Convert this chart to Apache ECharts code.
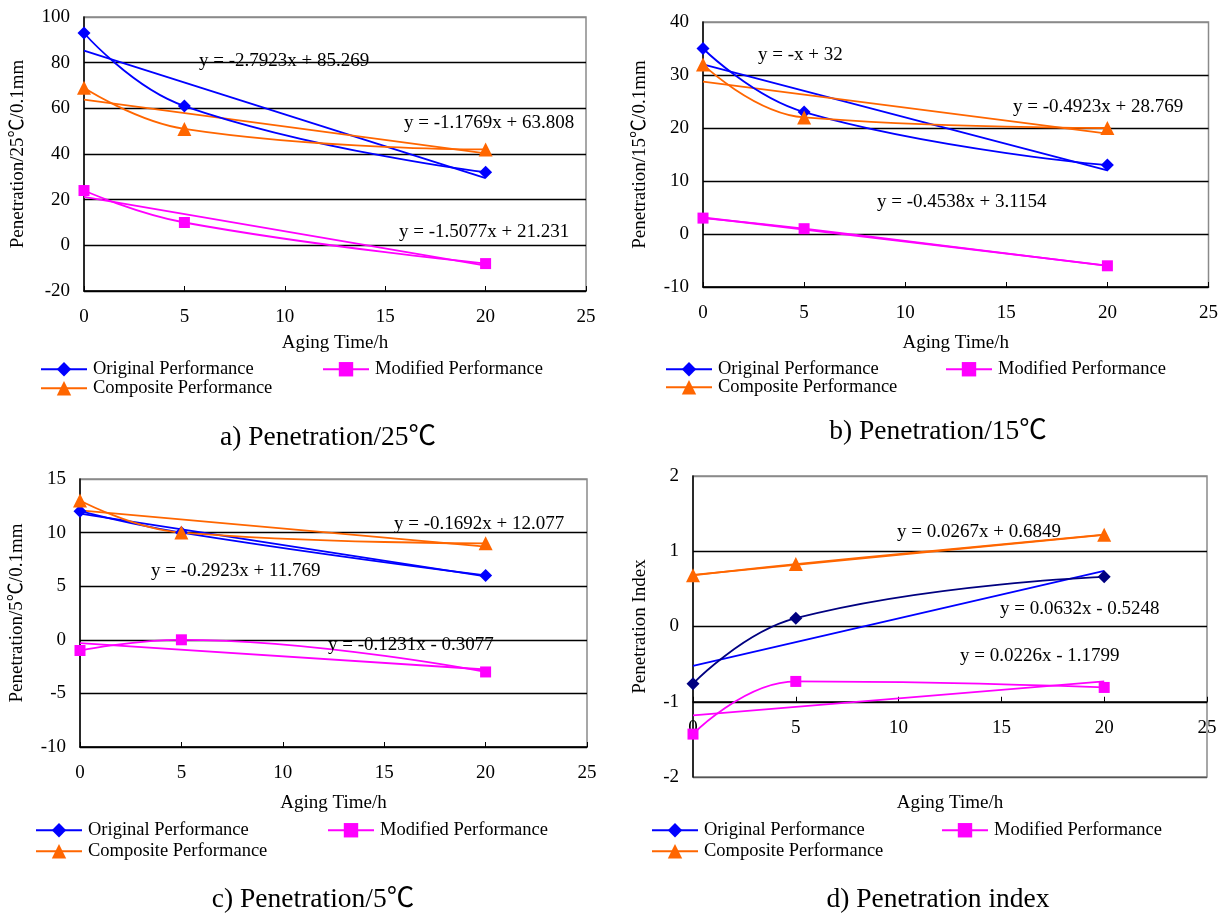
<!DOCTYPE html>
<html>
<head>
<meta charset="utf-8">
<script src="https://cdn.jsdelivr.net/npm/echarts@6/dist/echarts.min.js"></script>
<style>
  html, body { margin: 0; padding: 0; background: #fff; }
  #chart { width: 1221px; height: 916px; }
</style>
</head>
<body>
<div id="chart"></div>
<script>
// Aging time (h) at which each sample was measured
const hours = [0, 5, 20];
const seriesNames = ['Original Performance', 'Modified Performance', 'Composite Performance'];

// a) Penetration at 25 ℃ (0.1 mm)
const pen25Original = [93, 61, 32];
const pen25Modified = [24, 10, -8];
const pen25Composite = [69, 51, 42];
const pen25Slopes = [-2.7923, -1.5077, -1.1769];
const pen25Intercepts = [85.269, 21.231, 63.808];
const pen25Equations = ['y = -2.7923x + 85.269', 'y = -1.5077x + 21.231', 'y = -1.1769x + 63.808'];

// b) Penetration at 15 ℃ (0.1 mm)
const pen15Original = [35, 23, 13];
const pen15Modified = [3, 1, -6];
const pen15Composite = [32, 22, 20];
const pen15Slopes = [-1, -0.4538, -0.4923];
const pen15Intercepts = [32, 3.1154, 28.769];
const pen15Equations = ['y = -x + 32', 'y = -0.4538x + 3.1154', 'y = -0.4923x + 28.769'];

// c) Penetration at 5 ℃ (0.1 mm)
const pen5Original = [12, 10, 6];
const pen5Modified = [-1, 0, -3];
const pen5Composite = [13, 10, 9];
const pen5Slopes = [-0.2923, -0.1231, -0.1692];
const pen5Intercepts = [11.769, -0.3077, 12.077];
const pen5Equations = ['y = -0.2923x + 11.769', 'y = -0.1231x - 0.3077', 'y = -0.1692x + 12.077'];

// d) Penetration index
const piOriginal = [-0.76, 0.11, 0.66];
const piModified = [-1.43, -0.73, -0.81];
const piComposite = [0.68, 0.83, 1.22];
const piSlopes = [0.0632, 0.0226, 0.0267];
const piIntercepts = [-0.5248, -1.1799, 0.6849];
const piEquations = ['y = 0.0632x - 0.5248', 'y = 0.0226x - 1.1799', 'y = 0.0267x + 0.6849'];

// Axis ticks
const xTicks = { min: 0, max: 25, step: 5 };
const yTicks = [
  { min: -20, max: 100, step: 20 },
  { min: -10, max: 40, step: 10 },
  { min: -10, max: 15, step: 5 },
  { min: -2, max: 2, step: 1 }
];
const yTitles = ['Penetration/25℃/0.1mm', 'Penetration/15℃/0.1mm', 'Penetration/5℃/0.1mm', 'Penetration Index'];
const captions = ['a) Penetration/25℃', 'b) Penetration/15℃', 'c) Penetration/5℃', 'd) Penetration index'];
const xTitle = 'Aging Time/h';

const FONT = '"Liberation Serif", "Times New Roman", "Noto Sans CJK SC", serif';

const panelData = [
  { values: [pen25Original, pen25Modified, pen25Composite], slopes: pen25Slopes, intercepts: pen25Intercepts, equations: pen25Equations },
  { values: [pen15Original, pen15Modified, pen15Composite], slopes: pen15Slopes, intercepts: pen15Intercepts, equations: pen15Equations },
  { values: [pen5Original, pen5Modified, pen5Composite], slopes: pen5Slopes, intercepts: pen5Intercepts, equations: pen5Equations },
  { values: [piOriginal, piModified, piComposite], slopes: piSlopes, intercepts: piIntercepts, equations: piEquations }
];

// Layout of the four panels
const layout = [
  { grid: { left: 84, top: 17, width: 502, height: 274 }, yNameGap: 56, xNameGap: 43, xCross: 'min',
    eq: [[199, 61], [399, 232], [404, 123]], legend: [[40, 360], [322, 360], [40, 379]], caption: [328, 438] },
  { grid: { left: 703, top: 22, width: 506, height: 265 }, yNameGap: 53, xNameGap: 47, xCross: 'min',
    eq: [[758, 55], [877, 202], [1013, 107]], legend: [[665, 360], [945, 360], [665, 378]], caption: [938, 432] },
  { grid: { left: 80, top: 479, width: 507, height: 268 }, yNameGap: 53, xNameGap: 47, xCross: 'min',
    eq: [[151, 571], [328, 645], [394, 524]], legend: [[35, 821], [327, 821], [35, 842]], caption: [313, 900] },
  { grid: { left: 693, top: 476, width: 514, height: 301 }, yNameGap: 43, xNameGap: 92, xCross: -1,
    eq: [[1000, 609], [960, 656], [897, 532]], legend: [[651, 821], [941, 821], [651, 842]], caption: [938, 900] }
];

const lineColors = [
  ['#0000ff', '#ff00ff', '#ff6600'],
  ['#0000ff', '#ff00ff', '#ff6600'],
  ['#0000ff', '#ff00ff', '#ff6600'],
  ['#000080', '#ff00ff', '#ff6600']
];
const trendColors = ['#0000ff', '#ff00ff', '#ff6600'];
const symbols = ['diamond', 'rect', 'triangle'];
const symbolSizes = [13, 11, 14];

const grids = [], xAxes = [], yAxes = [], series = [], legends = [], graphics = [];

layout.forEach((lay, p) => {
  const yt = yTicks[p];
  const tickCount = Math.round((yt.max - yt.min) / yt.step) + 1;
  // interior grid lines black, top edge grey; bottom edge grey when the x axis crosses above it
  const splitColors = [];
  for (let i = 0; i < tickCount; i++) {
    if (i === tickCount - 1) splitColors.push('#8a8a8a');
    else if (i === 0 && lay.xCross !== 'min') splitColors.push('#555');
    else splitColors.push('#000');
  }
  grids.push(Object.assign({ show: true, borderColor: '#8a8a8a', borderWidth: 1.5, backgroundColor: 'transparent' }, lay.grid));

  // the x axis may cross the value axis above its minimum
  const crossOffset = lay.xCross === 'min' ? 0 : -lay.grid.height * (lay.xCross - yt.min) / (yt.max - yt.min);
  xAxes.push({
    type: 'value', gridIndex: p, min: xTicks.min, max: xTicks.max, interval: xTicks.step,
    position: 'bottom', offset: crossOffset,
    name: xTitle, nameLocation: 'middle', nameGap: lay.xNameGap,
    nameTextStyle: { fontFamily: FONT, fontSize: 19, color: '#000' },
    axisLine: { onZero: false, lineStyle: { color: '#000', width: 1.5 } },
    axisTick: { show: true, inside: true, length: 5, lineStyle: { color: '#000' } },
    axisLabel: { fontFamily: FONT, fontSize: 19, color: '#000', margin: 17 },
    splitLine: { show: false }
  });
  yAxes.push({
    type: 'value', gridIndex: p, min: yt.min, max: yt.max, interval: yt.step,
    name: yTitles[p], nameLocation: 'middle', nameGap: lay.yNameGap, nameRotate: 90,
    nameTextStyle: { fontFamily: FONT, fontSize: 19, color: '#000' },
    axisLine: { show: true, onZero: false, lineStyle: { color: '#000', width: 1.5 } },
    axisTick: { show: false },
    axisLabel: { fontFamily: FONT, fontSize: 19, color: '#000', margin: 14 },
    splitLine: { show: true, lineStyle: { color: splitColors, width: 1.4 } }
  });

  const d = panelData[p];
  // measured values, smoothed
  d.values.forEach((vals, s) => {
    series.push({
      type: 'line', name: seriesNames[s], xAxisIndex: p, yAxisIndex: p,
      data: hours.map((h, i) => [h, vals[i]]),
      smooth: 0.45,
      symbol: symbols[s], symbolSize: symbolSizes[s], showSymbol: true,
      lineStyle: { color: lineColors[p][s], width: 1.8 },
      itemStyle: { color: lineColors[p][s] },
      z: 3
    });
  });
  // linear trend lines from the fitted equations
  d.slopes.forEach((m, s) => {
    const x0 = hours[0], x1 = hours[hours.length - 1];
    series.push({
      type: 'line', name: seriesNames[s] + ' trend', xAxisIndex: p, yAxisIndex: p,
      data: [[x0, m * x0 + d.intercepts[s]], [x1, m * x1 + d.intercepts[s]]],
      symbol: 'none', silent: true,
      lineStyle: { color: trendColors[s], width: 1.8 },
      z: 2
    });
  });
  // legends: two items on the first row, one on the second
  seriesNames.forEach((nm, s) => {
    legends.push({
      data: [nm], left: lay.legend[s][0], top: lay.legend[s][1], padding: 0,
      itemWidth: 46, itemHeight: 18, itemGap: 0, selectedMode: false,
      textStyle: { fontFamily: FONT, fontSize: 18.5, color: '#000', padding: [0, 0, 0, 1] }
    });
  });
  // equation labels
  d.equations.forEach((txt, s) => {
    graphics.push({
      type: 'text', x: lay.eq[s][0], y: lay.eq[s][1], z: 10,
      style: { text: txt, fontFamily: FONT, fontSize: 19, fill: '#000', align: 'left', verticalAlign: 'middle' }
    });
  });
  // panel caption
  graphics.push({
    type: 'text', x: lay.caption[0], y: lay.caption[1],
    style: { text: captions[p], fontFamily: FONT, fontSize: 27.5, fill: '#000', align: 'center', verticalAlign: 'middle' }
  });
});

const chart = echarts.init(document.getElementById('chart'), null, { renderer: 'canvas' });
chart.setOption({
  backgroundColor: '#fff',
  animation: false,
  grid: grids,
  xAxis: xAxes,
  yAxis: yAxes,
  legend: legends,
  series: series,
  graphic: graphics
});
</script>
</body>
</html>
